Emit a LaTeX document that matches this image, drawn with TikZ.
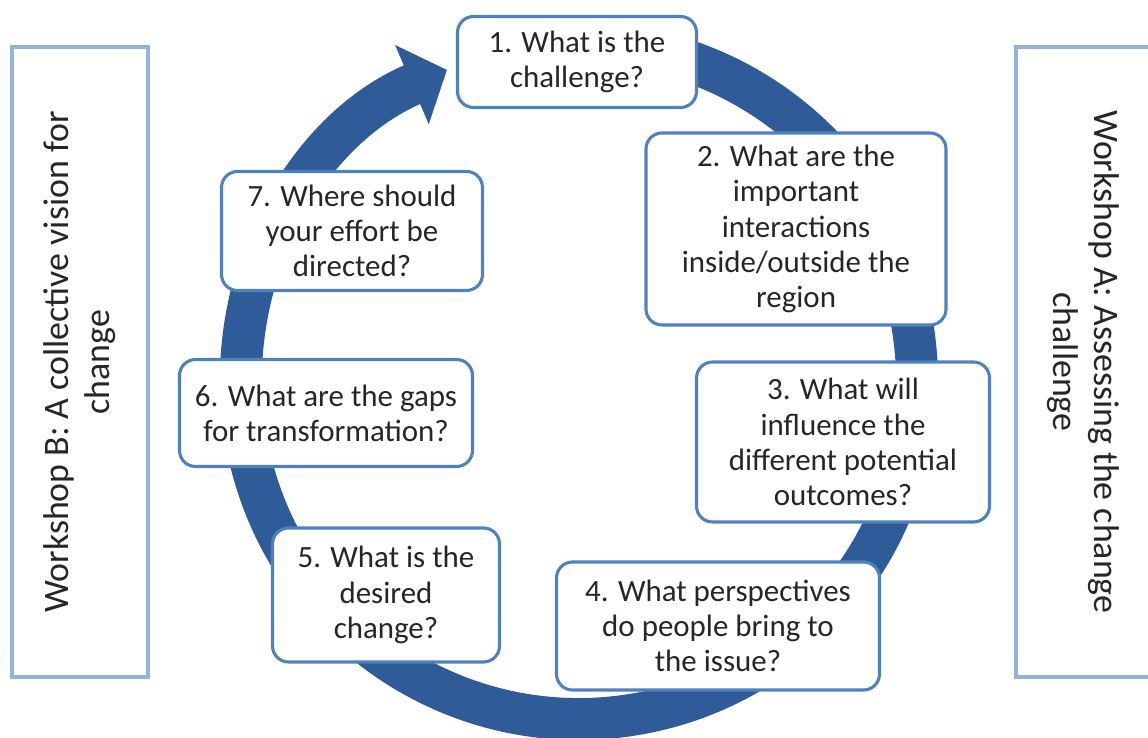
\documentclass[tikz,border=0pt]{standalone}
\usepackage{fontspec}
\setmainfont{Carlito}
\usetikzlibrary{arrows.meta}

\definecolor{ringblue}{RGB}{47,91,152}
\definecolor{boxblue}{RGB}{79,129,189}
\definecolor{sideblue}{RGB}{149,179,215}
\definecolor{ink}{RGB}{38,38,38}

\begin{document}
\begin{tikzpicture}[>={Triangle[length=0.95cm,width=2.1cm]},
                    font=\fontsize{22}{25}\selectfont,text=ink]

  \tikzstyle{question}=[rectangle,rounded corners=0.4cm,draw=boxblue,
                        line width=2.2pt,fill=white,align=center,inner sep=4pt]
  \tikzstyle{workshop}=[rectangle,draw=sideblue,line width=2.8pt,align=center,
                        font=\fontsize{25.5}{29}\selectfont]

  \useasboundingbox (0,0) rectangle (28.7,18.45);

  % the two workshop panels
  \node[workshop,minimum width=15.75cm,minimum height=3.4cm,rotate=90]
       (WB) at (2.0,9.4) {Workshop B: A collective vision for\\change};
  \node[workshop,minimum width=15.75cm,minimum height=3.35cm,rotate=-90]
       (WA) at (27.075,9.4) {Workshop A: Assessing the change\\challenge};

  % cycle ring, runs clockwise and ends left of step 1
  \coordinate (O) at (14.475,8.925);
  \draw[->,ringblue,line width=1.05cm]
       (O) ++(100:8.45) arc[start angle=100,end angle=-247,radius=8.45];

  \node[question,minimum width=5.975cm,minimum height=2.275cm]
       (Q1) at (14.425,16.9) {1. What is the\\challenge?};
  \node[question,minimum width=7.5cm,minimum height=4.8cm]
       (Q2) at (19.9,12.725) {2. What are the\\important\\interactions\\inside/outside the\\region};
  \node[question,minimum width=7.325cm,minimum height=4.0cm]
       (Q3) at (21.075,7.4) {3. What will\\influence the\\different potential\\outcomes?};
  \node[question,minimum width=8.075cm,minimum height=3.2cm]
       (Q4) at (17.95,2.8) {4. What perspectives\\do people bring to\\the issue?};
  \node[question,minimum width=5.675cm,minimum height=3.35cm]
       (Q5) at (9.65,3.575) {5. What is the\\desired\\change?};
  \node[question,minimum width=7.325cm,minimum height=2.675cm]
       (Q6) at (8.15,8.125) {6. What are the gaps\\for transformation?};
  \node[question,minimum width=6.525cm,minimum height=2.975cm]
       (Q7) at (8.8,12.675) {7. Where should\\your effort be\\directed?};
\end{tikzpicture}
\end{document}
